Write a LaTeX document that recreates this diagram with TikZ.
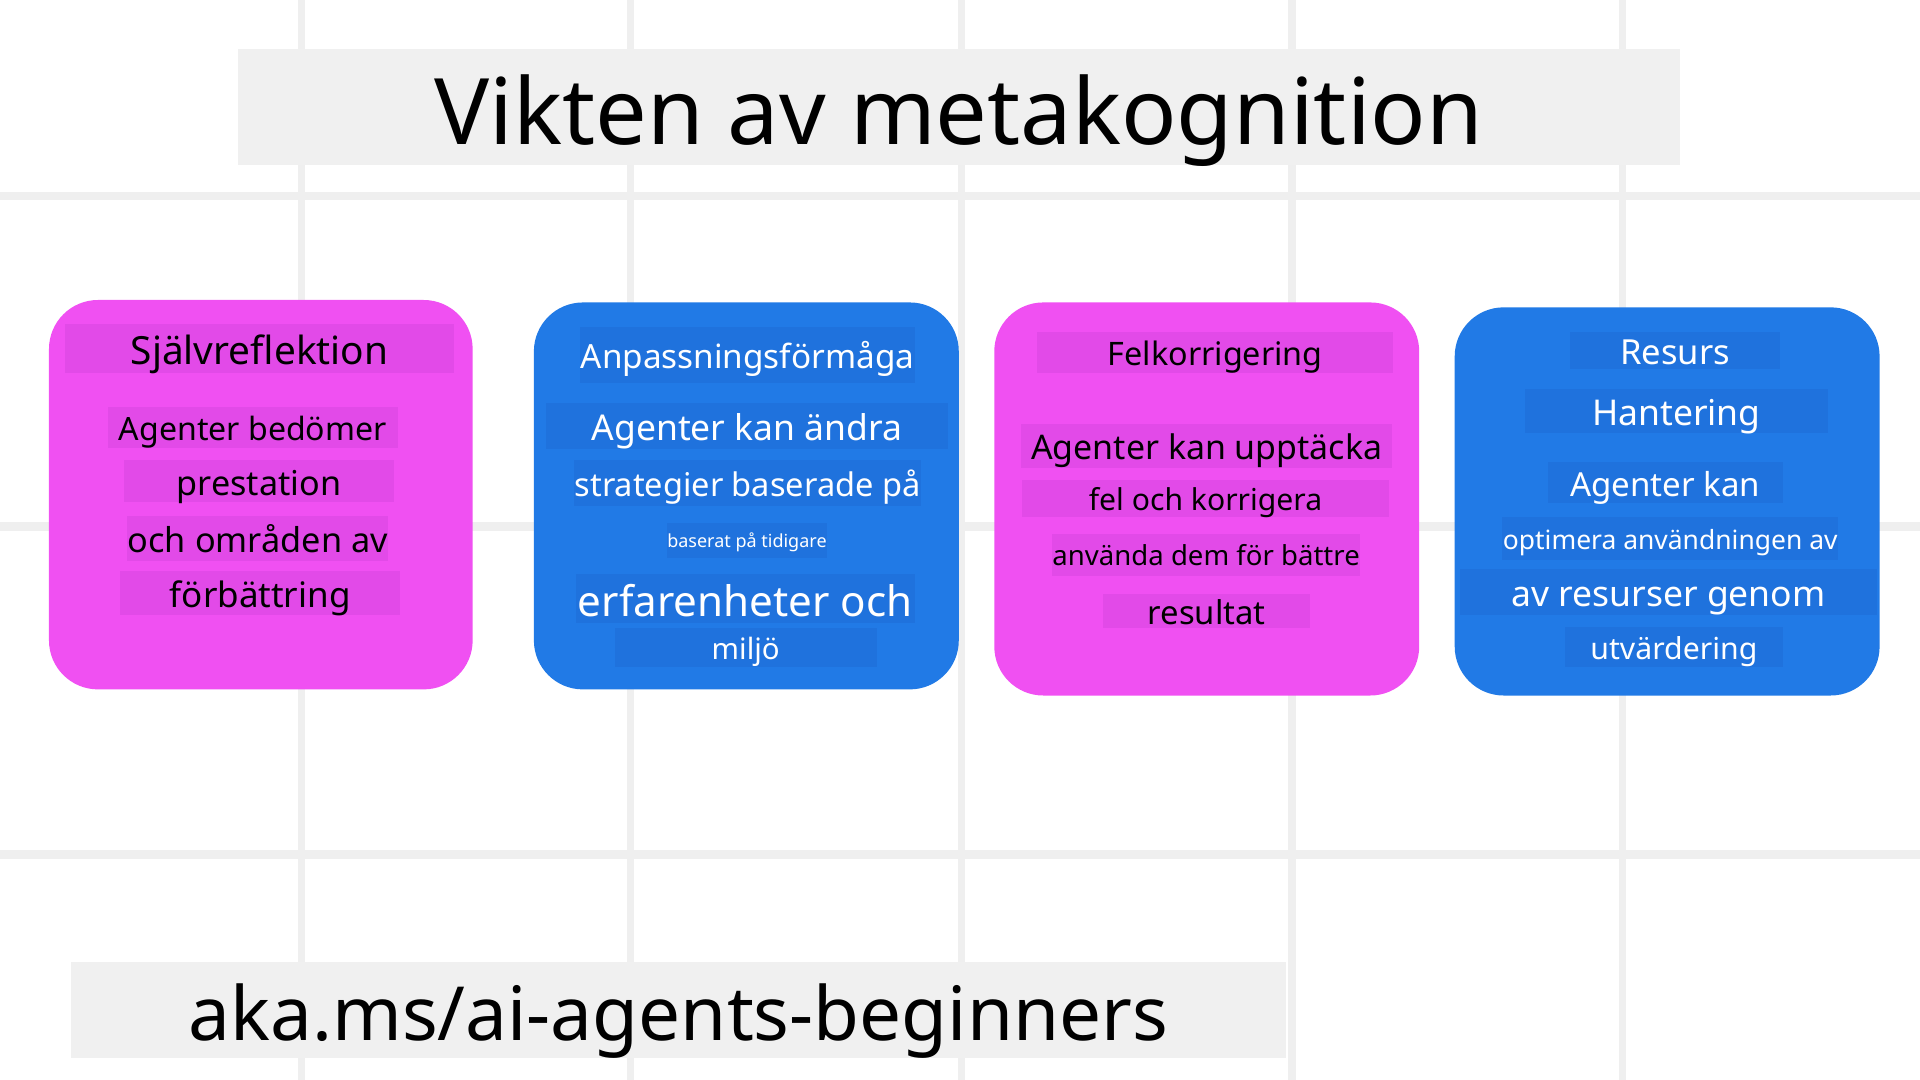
\documentclass[tikz,border=0pt]{standalone}
\usepackage{fontspec}
\setmainfont{Noto Sans}
\definecolor{gridgray}{HTML}{EFEFEF}
\definecolor{titlegray}{HTML}{F0F0F0}
\definecolor{magfill}{HTML}{F050F2}
\definecolor{magrowfill}{HTML}{E24AE8}
\definecolor{bluefill}{HTML}{217AE6}
\definecolor{bluerowfill}{HTML}{1F72DD}
\newcommand{\fsz}[1]{\fontsize{#1}{#1}\selectfont}
\begin{document}
\begin{tikzpicture}[x=1pt,y=-1pt,
    card/.style={rounded corners=40pt},
    rowtext/.style={inner sep=0pt,font=\fsz{#1},text height=0.82*#1pt,text depth=0pt},
    magrow/.style={rowtext=#1,fill=magrowfill,text=black},
    bluerow/.style={rowtext=#1,fill=bluerowfill,text=white}]
   \useasboundingbox[fill=white] (0,0) rectangle (1568,882);
   % grid
   \foreach \gx in {246,515,785,1055,1325}
      \draw[gridgray,line width=6pt] (\gx,0) -- (\gx,882);
   \foreach \gy in {160,430,698}
      \draw[gridgray,line width=7pt] (0,\gy) -- (1568,\gy);
   % title
   \node[rowtext=75,fill=titlegray,minimum width=1178pt,minimum height=95pt] (title) at (783,87.5)
      {Vikten av metakognition};
   % cards
   \fill[magfill,card] (40,245) rectangle (386,563);
   \fill[bluefill,card] (436,247) rectangle (783,563);
   \fill[magfill,card] (812,247) rectangle (1159,568);
   \fill[bluefill,card] (1188,251) rectangle (1535,568);
   % card 1
   \node[magrow=31.7,minimum width=318pt,minimum height=40pt] (self) at (212,285) {Självreflektion};
   \node[magrow=26.2,minimum width=237pt,minimum height=34pt] (selfa) at (206.5,349) {Agenter bedömer};
   \node[magrow=27.9,minimum width=221pt,minimum height=34pt] (selfb) at (211.5,393) {prestation};
   \node[magrow=28,minimum width=213pt,minimum height=37pt] (selfc) at (210.5,439.5) {och områden av};
   \node[magrow=28.6,minimum width=229pt,minimum height=36pt] (selfd) at (212.5,484) {förbättring};
   % card 2
   \node[bluerow=27.2,minimum width=273pt,minimum height=46pt] (adapt) at (610.5,290) {Anpassningsförmåga};
   \node[bluerow=29,minimum width=328pt,minimum height=38pt] (adapta) at (610,348) {Agenter kan ändra};
   \node[bluerow=26.6,minimum width=283pt,minimum height=37pt] (adaptb) at (610.5,394.5) {strategier baserade på};
   \node[bluerow=14.7,minimum width=130pt,minimum height=29pt] (adaptc) at (610,441.5) {baserat på tidigare};
   \node[bluerow=34.4,minimum width=277pt,minimum height=40pt] (adaptd) at (608.5,489) {erfarenheter och};
   \node[bluerow=24,minimum width=214pt,minimum height=32pt] (adapte) at (609,529) {miljö};
   % card 3
   \node[magrow=26.4,minimum width=291pt,minimum height=34pt] (err) at (992.5,288) {Felkorrigering};
   \node[magrow=27.7,minimum width=303pt,minimum height=36pt] (erra) at (985.5,364) {Agenter kan upptäcka};
   \node[magrow=24.6,minimum width=299pt,minimum height=30pt] (errb) at (984.5,407) {fel och korrigera};
   \node[magrow=22.5,minimum width=252pt,minimum height=34pt] (errc) at (985,453) {använda dem för bättre};
   \node[magrow=26.8,minimum width=169pt,minimum height=28pt] (errd) at (985.5,499) {resultat};
   % card 4
   \node[bluerow=28.2,minimum width=172pt,minimum height=30pt] (res) at (1368,286) {Resurs};
   \node[bluerow=29,minimum width=248pt,minimum height=36pt] (resa) at (1369,336) {Hantering};
   \node[bluerow=27,minimum width=192pt,minimum height=34pt] (resb) at (1360,394) {Agenter kan};
   \node[bluerow=21.6,minimum width=274pt,minimum height=35pt] (resc) at (1364,439.5) {optimera användningen av};
   \node[bluerow=29,minimum width=341pt,minimum height=37pt] (resd) at (1362.5,483.5) {av resurser genom};
   \node[bluerow=24.7,minimum width=178pt,minimum height=33pt] (rese) at (1367,528.5) {utvärdering};
   % link
   \node[rowtext=61,fill=titlegray,minimum width=992pt,minimum height=78pt] (link) at (554,825)
      {aka.ms/ai-agents-beginners};
\end{tikzpicture}
\end{document}
